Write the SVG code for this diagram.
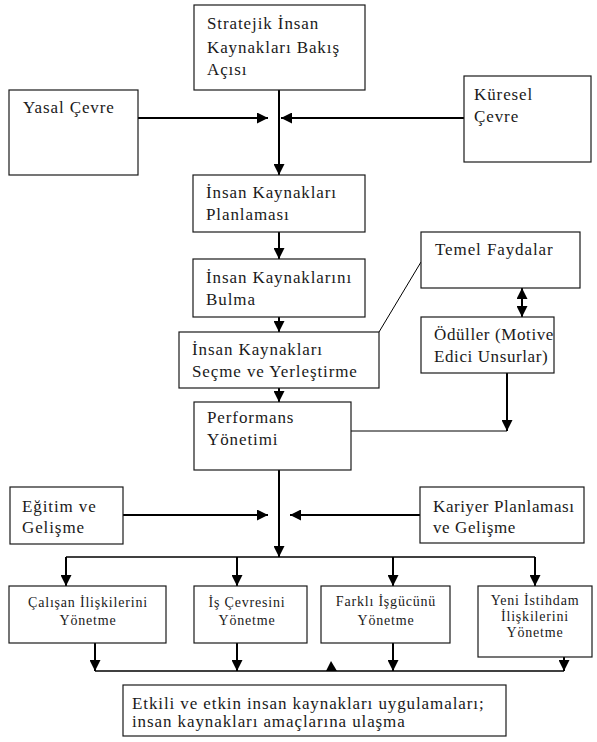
<svg xmlns="http://www.w3.org/2000/svg" width="597" height="742" viewBox="0 0 597 742">
  <style>
    .box { fill: #fff; stroke: #1a1a1a; stroke-width: 1.2; }
    .t { font-family: "Liberation Serif", "Times New Roman", "DejaVu Serif", serif; font-size: 17px; letter-spacing: 0.9px; fill: #1a1a1a; }
    .tight { letter-spacing: 0.6px; }
    .s { font-family: "Liberation Serif", "Times New Roman", "DejaVu Serif", serif; font-size: 14px; letter-spacing: 0.8px; fill: #1a1a1a; text-anchor: middle; }
    .c { fill: none; stroke: #000; stroke-width: 2; }
    .thin { fill: none; stroke: #000; stroke-width: 1; }
  </style>
  <defs>
    <marker id="arrow" viewBox="0 0 10 10" refX="10" refY="5" markerWidth="11" markerHeight="11" markerUnits="userSpaceOnUse" orient="auto-start-reverse">
      <path d="M0,0 L10,5 L0,10 z" fill="#000"/>
    </marker>
  </defs>

  <rect width="597" height="742" fill="#fff"/>

  <!-- connectors -->
  <g id="connectors">
    <path class="c" d="M279,90 V175" marker-end="url(#arrow)"/>
    <path class="c" d="M138,118 H268" marker-end="url(#arrow)"/>
    <path class="c" d="M464,118 H281" marker-end="url(#arrow)"/>
    <path class="c" d="M279,232 V259" marker-end="url(#arrow)"/>
    <path class="c" d="M279,317 V332" marker-end="url(#arrow)"/>
    <path class="c" d="M279,388 V402" marker-end="url(#arrow)"/>
    <path class="thin" d="M421,262 L379,332"/>
    <path class="c" d="M522,288 V317" marker-start="url(#arrow)" marker-end="url(#arrow)"/>
    <path class="thin" d="M351,431 H507"/>
    <path class="c" d="M507,373 V431" marker-end="url(#arrow)"/>
    <path class="c" d="M279,470 V557" marker-end="url(#arrow)"/>
    <path class="c" d="M123,515 H268" marker-end="url(#arrow)"/>
    <path class="c" d="M420,515 H290" marker-end="url(#arrow)"/>
    <path class="thin" style="stroke-width:1.6" d="M66,557 H535"/>
    <path class="c" d="M66,557 V586" marker-end="url(#arrow)"/>
    <path class="c" d="M237,557 V586" marker-end="url(#arrow)"/>
    <path class="c" d="M393,557 V586" marker-end="url(#arrow)"/>
    <path class="c" d="M535,557 V586" marker-end="url(#arrow)"/>
    <path class="c" d="M95,643 V671" marker-end="url(#arrow)"/>
    <path class="c" d="M237,643 V671" marker-end="url(#arrow)"/>
    <path class="c" d="M393,643 V671" marker-end="url(#arrow)"/>
    <path class="c" d="M564,657 V671" marker-end="url(#arrow)"/>
    <path class="thin" style="stroke-width:1.6" d="M95,671 H564"/>
    <path d="M326,671 L337,671 L331,661 z" fill="#000"/>
  </g>

  <g id="stratejik">
    <rect class="box" x="194" y="5" width="171" height="85"/>
    <text class="t" x="207" y="29">Stratejik İnsan</text>
    <text class="t" x="207" y="53">Kaynakları Bakış</text>
    <text class="t" x="207" y="75">Açısı</text>
  </g>

  <g id="yasal">
    <rect class="box" x="9" y="90" width="129" height="85"/>
    <text class="t" x="23" y="113">Yasal Çevre</text>
  </g>

  <g id="kuresel">
    <rect class="box" x="464" y="76" width="127" height="86"/>
    <text class="t" x="474" y="100">Küresel</text>
    <text class="t" x="474" y="122">Çevre</text>
  </g>

  <g id="planlama">
    <rect class="box" x="193" y="175" width="172" height="57"/>
    <text class="t" x="206" y="198">İnsan Kaynakları</text>
    <text class="t" x="206" y="220">Planlaması</text>
  </g>

  <g id="bulma">
    <rect class="box" x="193" y="259" width="172" height="58"/>
    <text class="t" x="206" y="283">İnsan Kaynaklarını</text>
    <text class="t" x="206" y="305">Bulma</text>
  </g>

  <g id="secme">
    <rect class="box" x="179" y="332" width="200" height="56"/>
    <text class="t" x="192" y="355">İnsan Kaynakları</text>
    <text class="t" x="192" y="377">Seçme ve Yerleştirme</text>
  </g>

  <g id="performans">
    <rect class="box" x="194" y="402" width="157" height="68"/>
    <text class="t" x="207" y="423">Performans</text>
    <text class="t" x="207" y="445">Yönetimi</text>
  </g>

  <g id="temel">
    <rect class="box" x="421" y="232" width="159" height="56"/>
    <text class="t" x="435" y="255">Temel Faydalar</text>
  </g>

  <g id="oduller">
    <rect class="box" x="421" y="317" width="133" height="56"/>
    <text class="t tight" x="434" y="340">Ödüller (Motive</text>
    <text class="t tight" x="434" y="362">Edici Unsurlar)</text>
  </g>

  <g id="egitim">
    <rect class="box" x="10" y="487" width="113" height="57"/>
    <text class="t" x="22" y="512">Eğitim ve</text>
    <text class="t" x="22" y="533">Gelişme</text>
  </g>

  <g id="kariyer">
    <rect class="box" x="420" y="487" width="164" height="56"/>
    <text class="t tight" x="433" y="512">Kariyer Planlaması</text>
    <text class="t tight" x="433" y="533">ve Gelişme</text>
  </g>

  <g id="calisan">
    <rect class="box" x="9" y="586" width="157" height="57"/>
    <text class="s" x="88" y="607">Çalışan İlişkilerini</text>
    <text class="s" x="88" y="625">Yönetme</text>
  </g>

  <g id="is-cevresi">
    <rect class="box" x="194" y="586" width="113" height="57"/>
    <text class="s" x="247" y="607">İş Çevresini</text>
    <text class="s" x="247" y="625">Yönetme</text>
  </g>

  <g id="farkli">
    <rect class="box" x="321" y="586" width="129" height="57"/>
    <text class="s" x="386" y="606">Farklı İşgücünü</text>
    <text class="s" x="386" y="625">Yönetme</text>
  </g>

  <g id="yeni">
    <rect class="box" x="478" y="586" width="114" height="71"/>
    <text class="s" x="535" y="605">Yeni İstihdam</text>
    <text class="s" x="535" y="621">İlişkilerini</text>
    <text class="s" x="535" y="637">Yönetme</text>
  </g>

  <g id="sonuc">
    <rect class="box" x="123" y="685" width="383" height="51"/>
    <text class="t" x="132" y="709">Etkili ve etkin insan kaynakları uygulamaları;</text>
    <text class="t" x="132" y="727">insan kaynakları amaçlarına ulaşma</text>
  </g>
</svg>
